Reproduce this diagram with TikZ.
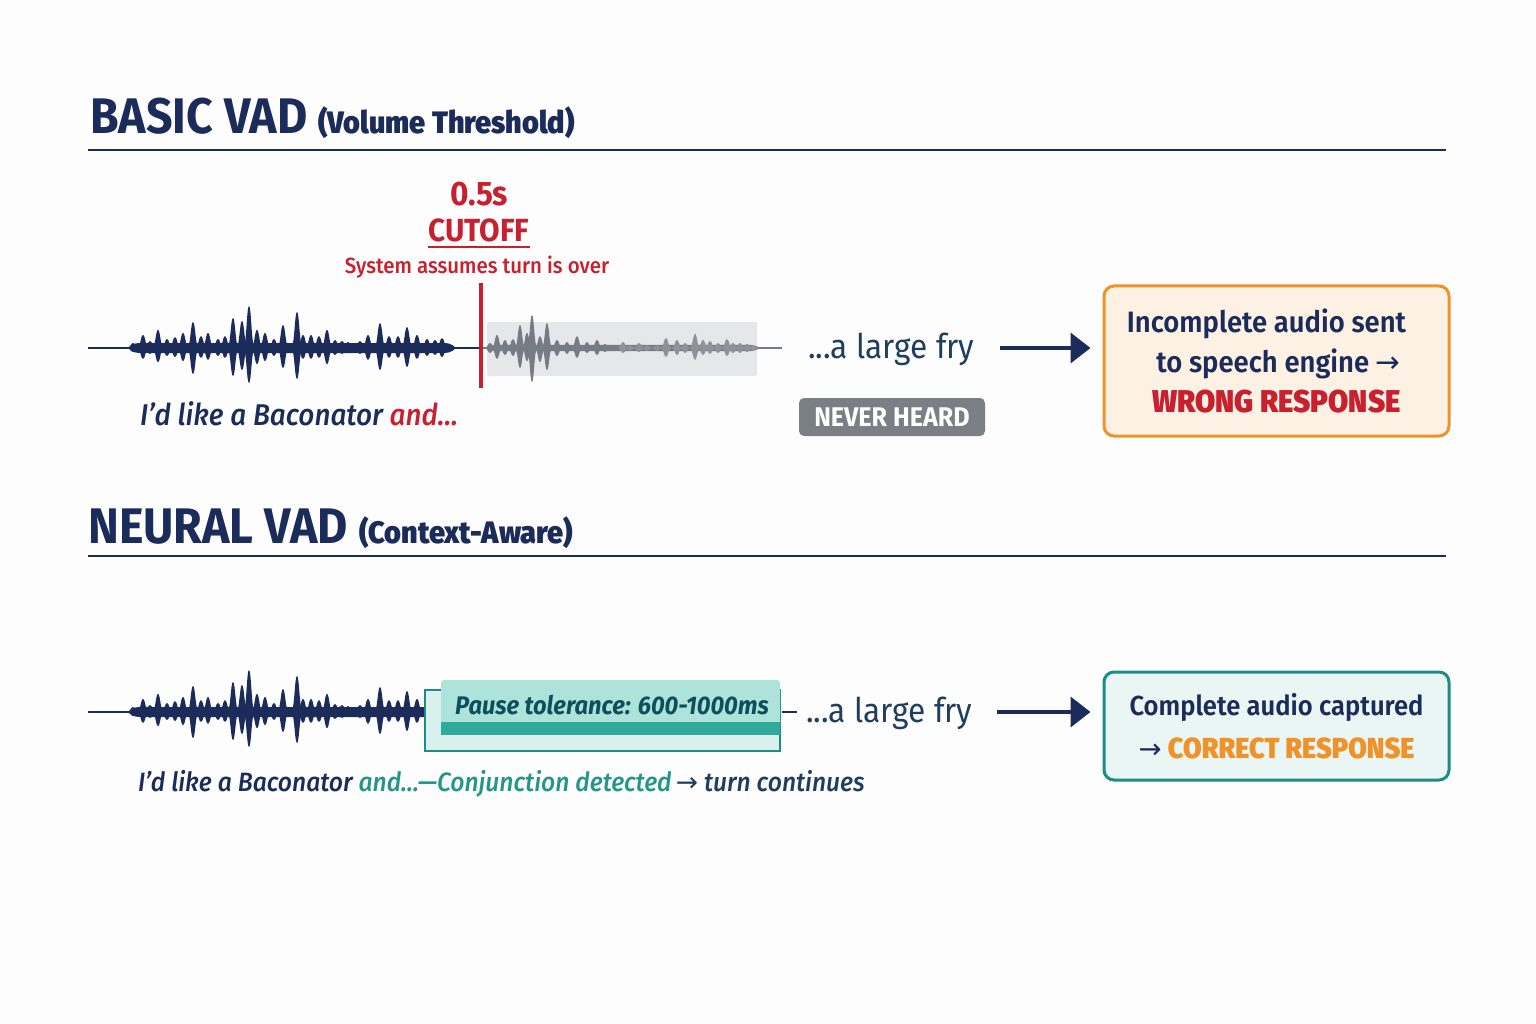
\documentclass[tikz,border=0pt]{standalone}
\usepackage{fontspec}
\setmainfont{Fira Sans}[FakeStretch=0.93]
\newfontfamily\fmed{Fira Sans Medium}[FakeStretch=0.93, ItalicFont={Fira Sans Medium Italic}]
\newfontfamily\fsemi{Fira Sans SemiBold}[FakeStretch=0.93, ItalicFont={Fira Sans SemiBold Italic}]
\newfontfamily\fdv{DejaVu Sans}
\newcommand{\rarr}{{\fdv →}}
\usetikzlibrary{arrows.meta}
\definecolor{navy}{HTML}{1B2B5A}
\definecolor{vred}{HTML}{C8202F}
\definecolor{vorange}{HTML}{F0922A}
\definecolor{orangefill}{HTML}{FDF1E3}
\definecolor{vteal}{HTML}{1E8C86}
\definecolor{tealtext}{HTML}{23968A}
\definecolor{tealdark}{HTML}{0F4F5C}
\definecolor{teallight}{HTML}{AEE3DB}
\definecolor{tealbar}{HTML}{2FAA9B}
\definecolor{tealouter}{HTML}{D8F1EC}
\definecolor{box2fill}{HTML}{EAF6F3}
\definecolor{grayfill}{HTML}{E6E7EA}
\definecolor{graywave}{HTML}{767C86}
\definecolor{graywavelt}{HTML}{8E939B}
\definecolor{nevergray}{HTML}{7A7F86}
\definecolor{frycol}{HTML}{1F3D5C}
\definecolor{bgcol}{HTML}{FDFDFD}
% bell-shaped lobe: x, y, up, down, color, halfwidth
\newcommand{\lobe}[6]{%
  \fill[#5] (#1-#6,#2) .. controls (#1-0.4*#6,#2) and (#1-0.4*#6,#2-#3) .. (#1,#2-#3)
    .. controls (#1+0.4*#6,#2-#3) and (#1+0.4*#6,#2) .. (#1+#6,#2)
    .. controls (#1+0.4*#6,#2) and (#1+0.4*#6,#2+#4) .. (#1,#2+#4)
    .. controls (#1-0.4*#6,#2+#4) and (#1-0.4*#6,#2) .. (#1-#6,#2) -- cycle;}
\newcommand{\band}[5]{% x0, x1, y, color, half-thickness
  \fill[#4] (#1,#3) .. controls (#1+6,#3-#5) .. (#1+20,#3-#5) -- (#2-20,#3-#5) .. controls (#2-6,#3-#5) .. (#2,#3) .. controls (#2-6,#3+#5) .. (#2-20,#3+#5) -- (#1+20,#3+#5) .. controls (#1+6,#3+#5) .. (#1,#3) -- cycle;}
\newcommand{\navylobes}[2]{% y, xmax
  \foreach \xx/\hh/\dd in {133/5/4,143/13/11,150/7/6,158/18/14,167/9/8,175/11/9,183/15/13,193/26/26,201/12/10,208/15/12,218/9/8,225/12/10,233/30/28,242/27/22,249/42/35,257/18/16,265/15/13,274/9/8,283/23/20,297/36/31,303/13/11,311/13/11,319/12/10,327/18/16,335/8/7,342/7/6,348/6/5,353/5/4,360/7/6,368/13/12,380/25/22,389/12/10,398/12/10,407/21/19,417/13/11,427/9/8,435/8/7,442/10/9,450/3/3}{
    \ifdim\xx pt<#2pt \lobe{\xx}{#1}{\hh}{\dd}{navy}{6}\fi
  }}
\tikzset{
  arr/.style={navy, line width=4, -{Triangle[length=20,width=30]}},
  rulefine/.style={navy, line width=2.5},
  resbox/.style={line width=3, rounded corners=10, minimum width=345, align=center, inner sep=0, text=navy},
}
\begin{document}
\begin{tikzpicture}[x=1pt,y=-1pt]
\useasboundingbox (0,0) rectangle (1536,1024);
\fill[bgcol] (0,0) rectangle (1536,1024);

% ---------- BASIC VAD ----------
\node[anchor=base west, inner sep=0, text=navy] (title1) at (90,134)
  {\fontsize{50}{54}\selectfont\bfseries BASIC VAD\hspace{11pt}\fsemi\fontsize{31}{34}\selectfont(Volume Threshold)};
\draw[rulefine] (88,150) coordinate (r1a) -- (1446,150) coordinate (r1b);

\node[anchor=base, inner sep=0, text=vred] (t05) at (479,206) {\fontsize{34}{36}\selectfont\bfseries 0.5s};
\node[anchor=base, inner sep=0, text=vred] (tcut) at (479,242) {\fontsize{32}{34}\selectfont\bfseries CUTOFF};
\draw[vred, line width=1.5] ([yshift=-5pt]tcut.base west) -- ([yshift=-5pt]tcut.base east);
\node[anchor=base, inner sep=0, text=vred] (tsys) at (477,273) {\fmed\fontsize{22}{24}\selectfont System assumes turn is over};

% waveform top
\fill[grayfill, rounded corners=2] (487,322) rectangle (757,376);
\draw[navy, line width=2.5] (88,348) -- (480,348);
\draw[graywave, line width=2.5] (483,348) -- (782,348);
\band{128}{456}{348}{navy}{5}
\navylobes{348}{460}
\band{486}{760}{348}{graywave}{3.2}
\foreach \xx/\hh/\dd/\cc in {490/5/5/graywave,497/13/11/graywave,505/8/7/graywave,513/9/8/graywave,520/23/20/graywave,527/15/13/graywave,532/33/34/graywave,540/12/14/graywave,547/25/22/graywave,557/8/8/graywave,567/6/6/graywave,577/12/10/graywave,587/6/5/graywave,597/8/7/graywave,605/4/4/graywave,613/3/3/graywave,623/6/5/graywavelt,630/3/3/graywavelt,639/5/4/graywavelt,647/3/3/graywavelt,657/3/3/graywavelt,666/10/9/graywavelt,677/8/7/graywavelt,685/5/5/graywavelt,695/14/12/graywavelt,703/8/7/graywavelt,710/7/6/graywavelt,718/5/5/graywavelt,727/9/8/graywavelt,733/5/5/graywavelt,740/5/5/graywavelt,747/4/4/graywavelt,753/3/3/graywavelt}{
  \lobe{\xx}{348}{\hh}{\dd}{\cc}{5.5}
}
\draw[vred, line width=4.5] (481,283) coordinate (cuttop) -- (481,388) coordinate (cutbot);

\node[anchor=base west, inner sep=0] (say1) at (140,425)
  {\fmed\itshape\fontsize{30}{34}\selectfont\color{navy}I’d like a Baconator \color{vred}and...};

\node[anchor=base west, inner sep=0, text=frycol] (fry1) at (808,358) {\fontsize{34}{36}\selectfont ...a large fry};
\node[fill=nevergray, rounded corners=5, text=white, minimum width=186, minimum height=38, inner sep=0] (never) at (892,417)
  {\fontsize{27}{28}\selectfont\bfseries NEVER HEARD};

\node[resbox, draw=vorange, fill=orangefill, minimum height=150, font={\fsemi\fontsize{29.5}{40}\selectfont}] (box1) at (1276.5,361)
  {\hspace*{-20pt}Incomplete audio sent\\
   \hspace*{4pt}to speech engine \rarr\\
   {\bfseries\fontsize{31.5}{40}\selectfont\color{vred}WRONG RESPONSE}};
\coordinate (a1s) at (1000,348);
\draw[arr, shorten >=12] (a1s) -- (box1.west |- a1s);

% ---------- NEURAL VAD ----------
\node[anchor=base west, inner sep=0, text=navy] (title2) at (88,543)
  {\fontsize{50}{54}\selectfont\bfseries NEURAL VAD\hspace{11pt}\fsemi\fontsize{31}{34}\selectfont(Context-Aware)};
\draw[rulefine] (88,556) coordinate (r2a) -- (1446,556) coordinate (r2b);

\draw[navy, line width=2.5] (88,712) -- (441,712);
\band{128}{442}{712}{navy}{5}
\navylobes{712}{440}

\fill[tealouter] (425,690) rectangle (780,751);
\draw[vteal, line width=1.5] (425,690) rectangle (780,751);
\fill[teallight, rounded corners=3] (441,680) rectangle (780,728);
\fill[tealbar] (441,722) rectangle (780,735);
\node[inner sep=0, text=tealdark] (pause) at (612,705) {\fontsize{25.5}{28}\selectfont\bfseries\itshape Pause tolerance: 600-1000ms};

\draw[navy, line width=2.5] (782,712) coordinate (gap1) -- (797,712) coordinate (gap2);
\node[anchor=base west, inner sep=0, text=frycol] (fry2) at (806,722) {\fontsize{34}{36}\selectfont ...a large fry};

\node[resbox, draw=vteal, fill=box2fill, minimum height=108, font={\fsemi\fontsize{27.5}{43}\selectfont}] (box2) at (1276.5,726)
  {Complete audio captured\\
   \rarr\ {\bfseries\fontsize{29}{43}\selectfont\color{vorange}CORRECT RESPONSE}};
\coordinate (a2s) at (997,712);
\draw[arr, shorten >=12] (a2s) -- (box2.west |- a2s);

\node[anchor=base west, inner sep=0] (say2) at (138,791)
  {\fmed\itshape\fontsize{26.5}{32}\selectfont\color{navy}I’d like a Baconator \color{tealtext}and...—Conjunction detected\,\color{frycol}\rarr\ turn continues};
\end{tikzpicture}
\end{document}
